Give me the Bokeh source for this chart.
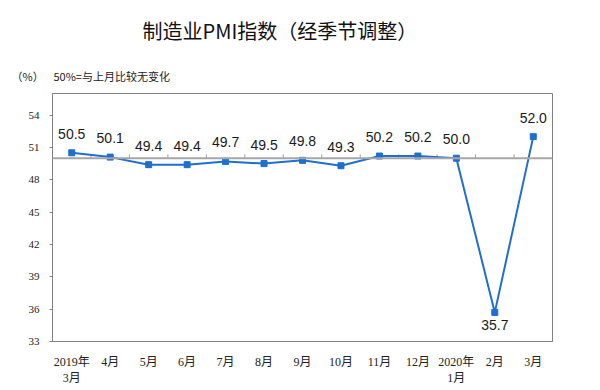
from bokeh.plotting import figure
from bokeh.models import Range1d, FixedTicker, Span, Title, ColumnDataSource
from bokeh.core.properties import value
from bokeh.embed import file_html
from bokeh.resources import INLINE

months = ["2019年\n3月", "4月", "5月", "6月", "7月", "8月", "9月", "10月", "11月", "12月", "2020年\n1月", "2月", "3月"]
pmi = [50.5, 50.1, 49.4, 49.4, 49.7, 49.5, 49.8, 49.3, 50.2, 50.2, 50.0, 35.7, 52.0]
y_ticks = [33, 36, 39, 42, 45, 48, 51, 54]
baseline = 50
y_min, y_max = 33, 56

n = len(months)
xs = [i + 0.5 for i in range(n)]
labels = ["%.1f" % v for v in pmi]
low = min(pmi)

p = figure(width=592, height=388, output_backend="svg", toolbar_location=None,
           x_range=Range1d(0, n), y_range=Range1d(y_min, y_max),
           min_border_left=52, min_border_right=40, min_border_top=93, min_border_bottom=44)
p.background_fill_color = "white"
p.border_fill_color = "white"
p.outline_line_color = "#808080"
p.outline_line_width = 1
p.xgrid.visible = False
p.ygrid.visible = False

# y axis
p.yaxis.ticker = FixedTicker(ticks=y_ticks)
p.yaxis.minor_tick_line_color = None
p.yaxis.major_tick_in = 0
p.yaxis.major_tick_out = 3
p.yaxis.axis_line_color = "#808080"
p.yaxis.major_tick_line_color = "#808080"
p.yaxis.major_label_text_font = "Liberation Serif"
p.yaxis.major_label_text_font_size = "11px"
p.yaxis.major_label_text_color = "#222222"
p.yaxis.major_label_standoff = 10

# x axis
p.xaxis.ticker = FixedTicker(ticks=xs)
p.xaxis.major_label_overrides = {x: m for x, m in zip(xs, months)}
p.xaxis.minor_tick_line_color = None
p.xaxis.major_tick_line_color = None
p.xaxis.major_tick_in = 0
p.xaxis.major_tick_out = 0
p.xaxis.axis_line_color = "#808080"
p.xaxis.major_label_text_font = "Liberation Serif, Noto Sans CJK SC"
p.xaxis.major_label_text_font_size = "12px"
p.xaxis.major_label_text_color = "#222222"
p.xaxis.major_label_standoff = 13

# baseline at 50 with upward ticks at category boundaries
p.add_layout(Span(location=baseline, dimension="width", line_color="#A6A6A6", line_width=2))
bounds = list(range(1, n))
p.segment(x0=bounds, y0=[baseline] * len(bounds), x1=bounds, y1=[baseline + 0.36] * len(bounds),
          line_color="#A0A0A0", line_width=1)

src = ColumnDataSource(dict(x=xs, y=pmi, label=labels))
p.line("x", "y", source=src, line_color="#1F6FCF", line_width=2)
p.scatter("x", "y", source=src, marker="square", size=6, fill_color="#1F6FCF", line_color="#1F6FCF")

up = ColumnDataSource(dict(x=[x for x, v in zip(xs, pmi) if v != low],
                           y=[v for v in pmi if v != low],
                           label=[l for l, v in zip(labels, pmi) if v != low]))
dn = ColumnDataSource(dict(x=[x for x, v in zip(xs, pmi) if v == low],
                           y=[v for v in pmi if v == low],
                           label=[l for l, v in zip(labels, pmi) if v == low]))
p.text("x", "y", text="label", source=up, text_align="center", text_baseline="middle",
       y_offset=-19, text_font=value("Liberation Sans"), text_font_size="14px", text_color="#1a1a1a")
p.text("x", "y", text="label", source=dn, text_align="center", text_baseline="middle",
       y_offset=13, text_font=value("Liberation Sans"), text_font_size="14px", text_color="#1a1a1a")

# header texts
p.add_layout(Title(text="（%）\u00a0\u00a0\u00a0\u00a050%=与上月比较无变化", align="left", offset=-41, standoff=19,
                   text_font="Noto Sans CJK SC", text_font_size="11px", text_font_style="normal",
                   text_color="#222222"), "above")
p.add_layout(Title(text="制造业PMI指数（经季节调整）", align="left", offset=90, standoff=23,
                   text_font="Noto Sans CJK SC", text_font_size="20px", text_font_style="normal",
                   text_color="#111111"), "above")

open("out.html", "w").write(file_html(p, INLINE))
